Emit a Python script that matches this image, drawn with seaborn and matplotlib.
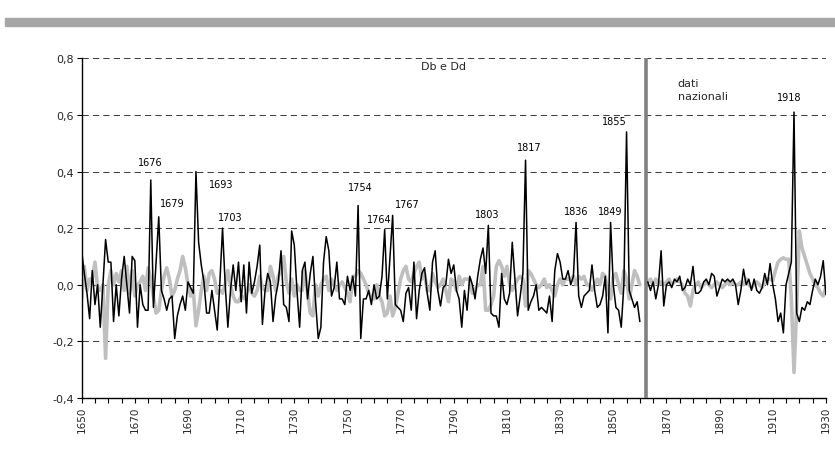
import matplotlib
matplotlib.use("Agg")
import numpy as np
import pandas as pd
import matplotlib.pyplot as plt
import seaborn as sns
from matplotlib.ticker import MultipleLocator, FuncFormatter
from matplotlib.patches import Rectangle

# ---------------- data ----------------
years_local = list(range(1650, 1861))
years_national = list(range(1863, 1931))

db_local = [
    0.12, 0.04, -0.03, -0.12, 0.05, -0.07, 0.00, -0.15, 0.00, 0.16,      # 1650s
    0.08, 0.08, -0.13, 0.00, -0.11, 0.02, 0.10, 0.00, -0.10, 0.10,       # 1660s
    0.085, -0.15, 0.00, -0.07, -0.09, -0.09, 0.37, -0.08, 0.08, 0.24,    # 1670s
    -0.02, -0.05, -0.09, -0.05, -0.04, -0.19, -0.11, -0.07, -0.04, -0.09,  # 1680s
    0.01, -0.01, -0.03, 0.40, 0.15, 0.07, 0.01, -0.10, -0.10, -0.02,     # 1690s
    -0.09, -0.16, 0.01, 0.20, 0.00, -0.15, -0.02, 0.07, -0.02, 0.08,     # 1700s
    -0.06, 0.07, -0.10, 0.08, -0.03, 0.01, 0.065, 0.14, -0.14, -0.02,    # 1710s
    0.04, 0.01, -0.13, -0.04, 0.01, 0.12, -0.07, -0.08, -0.13, 0.19,     # 1720s
    0.14, -0.02, -0.15, 0.05, 0.08, -0.05, 0.04, 0.10, -0.06, -0.19,     # 1730s
    -0.15, 0.08, 0.17, 0.12, -0.04, -0.01, 0.08, -0.05, -0.05, -0.07,    # 1740s
    0.03, -0.02, 0.03, -0.04, 0.28, -0.19, -0.05, -0.05, -0.02, -0.07,   # 1750s
    0.00, -0.05, -0.04, 0.03, 0.195, -0.05, 0.10, 0.245, -0.07, -0.08,   # 1760s
    -0.09, -0.13, -0.03, -0.01, -0.09, 0.08, -0.12, -0.02, 0.04, 0.06,   # 1770s
    -0.03, -0.09, 0.08, 0.12, -0.02, -0.075, -0.01, 0.00, 0.09, 0.04,    # 1780s
    0.07, -0.02, -0.05, -0.15, -0.02, -0.09, 0.03, 0.00, -0.05, 0.03,    # 1790s
    0.09, 0.13, 0.04, 0.21, -0.10, -0.11, -0.11, -0.15, 0.04, -0.05,     # 1800s
    -0.07, -0.03, 0.15, 0.02, -0.11, -0.04, 0.04, 0.44, -0.09, -0.06,    # 1810s
    -0.04, 0.00, -0.09, -0.08, -0.09, -0.10, -0.04, -0.13, 0.05, 0.11,   # 1820s
    0.08, 0.02, 0.02, 0.05, 0.00, 0.03, 0.22, -0.04, -0.08, -0.04,       # 1830s
    -0.03, -0.02, 0.07, -0.02, -0.08, -0.07, -0.04, 0.03, -0.17, 0.22,   # 1840s
    0.00, -0.08, -0.09, -0.15, 0.00, 0.54, -0.02, -0.05, -0.08, -0.06,   # 1850s
    -0.13,                                                               # 1860
]

dd_local = [
    -0.05, 0.065, -0.02, 0.02, 0.02, 0.08, -0.01, -0.02, 0.00, -0.26,    # 1650s
    0.00, 0.05, 0.00, 0.04, 0.01, 0.05, -0.02, 0.065, -0.03, 0.05,       # 1660s
    -0.04, 0.00, 0.01, 0.03, -0.02, 0.06, 0.02, -0.04, -0.10, -0.09,     # 1670s
    -0.02, 0.03, 0.06, 0.02, -0.04, -0.02, 0.02, 0.05, 0.10, 0.06,       # 1680s
    0.00, -0.04, -0.02, -0.145, -0.09, -0.02, 0.03, -0.02, 0.04, 0.05,   # 1690s
    0.02, -0.03, -0.02, -0.03, 0.00, 0.05, 0.00, -0.04, -0.06, -0.06,    # 1700s
    -0.04, -0.05, -0.03, 0.00, -0.03, -0.04, -0.02, 0.03, -0.01, -0.02,  # 1710s
    -0.02, 0.065, 0.03, -0.02, 0.03, 0.05, 0.10, 0.01, -0.03, 0.02,      # 1720s
    -0.04, 0.00, -0.02, -0.02, 0.05, -0.03, -0.10, -0.11, 0.00, -0.04,   # 1730s
    0.00, 0.02, 0.03, -0.02, 0.02, 0.00, -0.02, 0.00, 0.01, -0.01,       # 1740s
    -0.03, -0.06, 0.03, 0.03, 0.05, 0.04, 0.02, 0.00, -0.03, -0.04,      # 1750s
    -0.05, 0.00, -0.04, -0.06, -0.11, -0.10, -0.04, -0.11, -0.08, -0.03, # 1760s
    0.02, 0.05, 0.065, 0.02, 0.01, 0.04, 0.065, 0.08, 0.02, 0.04,        # 1770s
    -0.02, -0.02, 0.04, 0.01, -0.01, 0.00, 0.02, -0.02, -0.06, 0.02,     # 1780s
    0.01, -0.02, 0.03, 0.00, 0.02, 0.02, 0.02, -0.03, -0.02, 0.00,       # 1790s
    0.00, 0.065, -0.09, -0.09, -0.07, -0.04, 0.065, 0.085, 0.065, 0.03,  # 1800s
    0.065, 0.00, -0.02, 0.00, 0.02, 0.03, 0.02, -0.075, 0.05, 0.04,      # 1810s
    0.02, 0.00, -0.01, 0.00, 0.02, -0.01, 0.00, -0.02, -0.04, 0.00,      # 1820s
    0.02, 0.00, 0.02, 0.02, 0.02, 0.03, 0.00, 0.03, 0.02, 0.03,          # 1830s
    0.00, 0.00, -0.02, 0.00, 0.02, 0.00, 0.04, 0.03, -0.03, -0.05,       # 1840s
    0.03, 0.04, 0.00, -0.03, 0.05, 0.02, -0.05, 0.00, 0.05, 0.03,        # 1850s
    0.00,                                                                # 1860
]

db_national = [
    0.01, -0.02, 0.01, -0.05, 0.00, 0.12, -0.075,                        # 1863-69
    0.00, 0.01, -0.01, 0.02, 0.01, 0.03, -0.02, -0.01, 0.02, 0.00,       # 1870s
    0.065, -0.03, -0.03, -0.02, 0.01, 0.02, 0.00, 0.04, 0.03, -0.04,     # 1880s
    -0.01, 0.02, 0.01, 0.02, 0.01, 0.02, 0.00, -0.07, -0.02, 0.055,      # 1890s
    0.00, 0.02, -0.02, 0.02, -0.02, -0.03, -0.01, 0.04, 0.00, 0.075,     # 1900s
    0.00, -0.05, -0.13, -0.10, -0.17, 0.00, 0.04, 0.08, 0.61, -0.10,     # 1910s
    -0.13, -0.08, -0.09, -0.06, -0.07, -0.02, 0.02, 0.00, 0.03, 0.085,   # 1920s
    -0.035,                                                              # 1930
]

dd_national = [
    0.01, 0.02, 0.00, 0.02, 0.00, 0.01, 0.00,                            # 1863-69
    0.01, 0.02, 0.00, 0.01, 0.02, 0.01, 0.00, -0.03, -0.04, -0.075,      # 1870s
    -0.02, 0.00, 0.01, -0.01, 0.00, 0.01, 0.00, -0.01, 0.00, 0.01,       # 1880s
    0.00, -0.01, 0.00, 0.01, 0.00, 0.01, 0.00, 0.00, 0.01, 0.00,         # 1890s
    0.02, 0.00, -0.01, 0.00, 0.01, 0.00, -0.01, 0.01, 0.02, 0.02,        # 1900s
    0.015, 0.05, 0.08, 0.09, 0.095, 0.09, 0.09, -0.05, -0.31, -0.08,     # 1910s
    0.19, 0.13, 0.10, 0.07, 0.04, 0.02, 0.00, -0.01, -0.03, -0.04,       # 1920s
    -0.01,                                                               # 1930
]

break_year = 1862.4

peak_labels = ["1676", "1679", "1693", "1703", "1754", "1764", "1767",
               "1803", "1817", "1836", "1849", "1855", "1918"]
peak_label_x = [1675.7, 1684.2, 1702.4, 1705.8, 1755.0, 1761.8, 1772.6,
                1802.5, 1818.3, 1836.0, 1848.8, 1850.5, 1916.2]
peak_label_y = [0.435, 0.29, 0.357, 0.24, 0.347, 0.233, 0.286,
                0.251, 0.487, 0.26, 0.26, 0.58, 0.665]

y_ticks = [-0.4, -0.2, 0.0, 0.2, 0.4, 0.6, 0.8]
x_ticks = list(range(1650, 1931, 20))

df = pd.DataFrame({
    "year": years_local + years_national,
    "Db": db_local + db_national,
    "Dd": dd_local + dd_national,
    "segment": ["local"] * len(years_local) + ["national"] * len(years_national),
})

# ---------------- plot ----------------
sns.set_theme(style="white")
plt.rcParams["font.family"] = ["DejaVu Sans"]

fig = plt.figure(figsize=(8.35, 4.52), dpi=100)
ax = fig.add_axes([0.0978, 0.1173, 0.8913, 0.7515])

# top decorative band
fig.patches.append(Rectangle((0.006, 1 - 27 / 452), 0.994, 8 / 452,
                             transform=fig.transFigure, color="#a6a6a6", zorder=0))

ax.set_xlim(1650, 1930)
ax.set_ylim(-0.4, 0.8)

for yv in y_ticks[1:]:
    ax.axhline(yv, color="#404040", lw=0.75, ls=(0, (6, 4)), zorder=1)

ax.axvline(break_year, color="#808080", lw=2.6, zorder=3)

sns.lineplot(data=df, x="year", y="Dd", units="segment", estimator=None,
             color="#bfbfbf", lw=2.6, ax=ax, zorder=2)
sns.lineplot(data=df, x="year", y="Db", units="segment", estimator=None,
             color="black", lw=1.1, ax=ax, zorder=4)

ax.set_xlabel("")
ax.set_ylabel("")
sns.despine(ax=ax)
for s in ("left", "bottom"):
    ax.spines[s].set_color("black")
    ax.spines[s].set_linewidth(1.0)

ax.set_yticks(y_ticks)
ax.yaxis.set_major_formatter(FuncFormatter(lambda v, p: f"{v:.1f}".replace(".", ",")))
ax.set_xticks(x_ticks)
ax.xaxis.set_minor_locator(MultipleLocator(5))
ax.tick_params(axis="both", which="both", direction="out", length=3.5, width=0.8,
               color="black", bottom=True, left=True, pad=2)
ax.tick_params(axis="y", labelsize=8)
ax.tick_params(axis="x", labelsize=7.5, labelrotation=90)

for lab, lx, ly in zip(peak_labels, peak_label_x, peak_label_y):
    ax.text(lx, ly, lab, ha="center", va="center", fontsize=7, color="black", zorder=5)

ax.text(1874.2, 0.69, "dati\nnazionali", ha="left", va="center", fontsize=8,
        linespacing=1.3, zorder=5)

fig.text(444 / 835, 1 - 67 / 452, "Db e Dd", ha="center", va="center", fontsize=8)

fig.savefig("out.png", dpi=100)
